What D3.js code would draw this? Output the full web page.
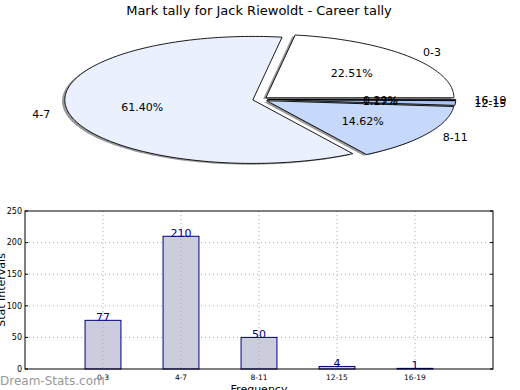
<html>
<head>
<title>Mark tally</title>
<style>
body { margin: 0; background: #fff; }
text { font-family: "DejaVu Sans", sans-serif; }
</style>
</head>
<body>
<script src="https://cdnjs.cloudflare.com/ajax/libs/d3/7.8.5/d3.min.js"></script>
<svg id="chart"></svg>
<script>

var categories = ["0-3", "4-7", "8-11", "12-15", "16-19"];
var tallies = [77, 210, 50, 4, 1];
var sliceColors = ["#ffffff", "#eaf0fd", "#c6d9fc", "#a8c4f8", "#8cb0f2"];
var yTicks = [0, 50, 100, 150, 200, 250];

var W = 520, H = 390;
var svg = d3.select("#chart").attr("width", W).attr("height", H);

svg.append("text")
  .attr("x", 259).attr("y", 15)
  .attr("text-anchor", "middle")
  .style("font-size", "13px")
  .text("Mark tally for Jack Riewoldt - Career tally");

// ---- pie (squashed, exploded, with shadow) ----
var cx = 260.2, cy = 99.4, rx = 188, ry = 63.5, explode = 0.04;
var px = d3.scaleLinear().domain([-1, 1]).range([cx - rx, cx + rx]);
var py = d3.scaleLinear().domain([-1, 1]).range([cy + ry, cy - ry]);

var total = d3.sum(tallies);
var angle = d3.scaleLinear().domain([0, total]).range([0, 2 * Math.PI]);
var cum = 0;
var slices = tallies.map(function(v, i) {
  var s = { i: i, v: v, a0: angle(cum), a1: angle(cum + v) };
  cum += v;
  s.mid = (s.a0 + s.a1) / 2;
  s.ox = explode * Math.cos(s.mid);
  s.oy = explode * Math.sin(s.mid);
  return s;
});

var line = d3.line();
function wedge(s, dx, dy) {
  var pts = [[px(s.ox + dx), py(s.oy + dy)]];
  var n = Math.max(2, Math.ceil((s.a1 - s.a0) / 0.02));
  for (var k = 0; k <= n; k++) {
    var a = s.a0 + (s.a1 - s.a0) * k / n;
    pts.push([px(s.ox + dx + Math.cos(a)), py(s.oy + dy + Math.sin(a))]);
  }
  return line(pts) + "Z";
}

var pie = svg.append("g");
pie.selectAll("path.shadow")
  .data(slices)
  .enter().append("path")
    .attr("class", "shadow")
    .attr("d", function(d) { return wedge(d, -0.015, -0.02); })
    .attr("fill", "#000")
    .attr("fill-opacity", 0.4);

pie.selectAll("path.slice")
  .data(slices)
  .enter().append("path")
    .attr("class", "slice")
    .attr("d", function(d) { return wedge(d, 0, 0); })
    .attr("fill", function(d) { return sliceColors[d.i]; })
    .attr("stroke", "#000")
    .attr("stroke-width", 0.9)
    .attr("stroke-linejoin", "miter");

pie.selectAll("text.lab")
  .data(slices)
  .enter().append("text")
    .attr("class", "lab")
    .attr("x", function(d) { return px(d.ox + 1.1 * Math.cos(d.mid)); })
    .attr("y", function(d) { return py(d.oy + 1.1 * Math.sin(d.mid)); })
    .attr("dy", "0.35em")
    .attr("text-anchor", function(d) { return Math.cos(d.mid) > 0 ? "start" : "end"; })
    .style("font-size", "11px")
    .text(function(d) { return categories[d.i]; });

pie.selectAll("text.pct")
  .data(slices)
  .enter().append("text")
    .attr("class", "pct")
    .attr("x", function(d) { return px(d.ox + 0.6 * Math.cos(d.mid)); })
    .attr("y", function(d) { return py(d.oy + 0.6 * Math.sin(d.mid)); })
    .attr("dy", "0.35em")
    .attr("text-anchor", "middle")
    .style("font-size", "11px")
    .text(function(d) { return (100 * d.v / total).toFixed(2) + "%"; });

// ---- bar chart ----
var mLeft = 25, mRight = 493, mTop = 211, mBottom = 369;
var x = d3.scaleLinear().domain([-1, categories.length]).range([mLeft, mRight]);
var y = d3.scaleLinear().domain([0, 250]).range([mBottom, mTop]);
var barW = 0.46;

var bars = svg.append("g");

// grid
bars.selectAll("line.hgrid")
  .data(yTicks.slice(1, -1))
  .enter().append("line")
    .attr("x1", mLeft).attr("x2", mRight)
    .attr("y1", function(d) { return y(d); }).attr("y2", function(d) { return y(d); })
    .attr("stroke", "#aaa").attr("stroke-width", 1).attr("stroke-dasharray", "1,3");

bars.selectAll("rect.bar")
  .data(tallies)
  .enter().append("rect")
    .attr("x", function(d, i) { return x(i - barW / 2); })
    .attr("y", function(d) { return y(d); })
    .attr("width", function() { return x(barW) - x(0); })
    .attr("height", function(d) { return y(0) - y(d); })
    .attr("fill", "#ccccdf")
    .attr("stroke", "#000080")
    .attr("stroke-width", 1);

bars.selectAll("line.vgrid")
  .data(categories)
  .enter().append("line")
    .attr("x1", function(d, i) { return x(i); }).attr("x2", function(d, i) { return x(i); })
    .attr("y1", mTop).attr("y2", mBottom)
    .attr("stroke", "#aaa").attr("stroke-width", 1).attr("stroke-dasharray", "1,3");

bars.selectAll("text.val")
  .data(tallies)
  .enter().append("text")
    .attr("x", function(d, i) { return x(i); })
    .attr("y", function(d) { return y(d) + 1; })
    .attr("text-anchor", "middle")
    .attr("fill", "#000080")
    .style("font-size", "11px")
    .text(function(d) { return d; });

// frame
bars.append("rect")
  .attr("x", mLeft).attr("y", mTop)
  .attr("width", mRight - mLeft).attr("height", mBottom - mTop)
  .attr("fill", "none").attr("stroke", "#000").attr("stroke-width", 1);

// ticks
bars.selectAll("line.yt")
  .data(yTicks)
  .enter().append("line")
    .attr("x1", mLeft).attr("x2", mLeft + 3)
    .attr("y1", function(d) { return y(d); }).attr("y2", function(d) { return y(d); })
    .attr("stroke", "#000");
bars.selectAll("line.yt2")
  .data(yTicks)
  .enter().append("line")
    .attr("x1", mRight - 3).attr("x2", mRight)
    .attr("y1", function(d) { return y(d); }).attr("y2", function(d) { return y(d); })
    .attr("stroke", "#000");

bars.selectAll("text.ytl")
  .data(yTicks)
  .enter().append("text")
    .attr("x", mLeft - 3)
    .attr("y", function(d) { return y(d); })
    .attr("dy", "0.35em")
    .attr("text-anchor", "end")
    .style("font-size", "8px")
    .text(function(d) { return d; });

bars.selectAll("text.xtl")
  .data(categories)
  .enter().append("text")
    .attr("x", function(d, i) { return x(i); })
    .attr("y", mBottom + 11)
    .attr("text-anchor", "middle")
    .style("font-size", "7.5px")
    .text(function(d) { return d; });

svg.append("text")
  .attr("transform", "translate(5," + ((mTop + mBottom) / 2) + ") rotate(-90)")
  .attr("text-anchor", "middle")
  .style("font-size", "11px")
  .text("Stat Intervals");

svg.append("text")
  .attr("x", (mLeft + mRight) / 2).attr("y", 393)
  .attr("text-anchor", "middle")
  .style("font-size", "11px")
  .text("Frequency");

svg.append("text")
  .attr("x", 0).attr("y", 385)
  .attr("fill", "#999")
  .style("font-size", "12px")
  .text("Dream-Stats.com");

</script>
</body>
</html>
